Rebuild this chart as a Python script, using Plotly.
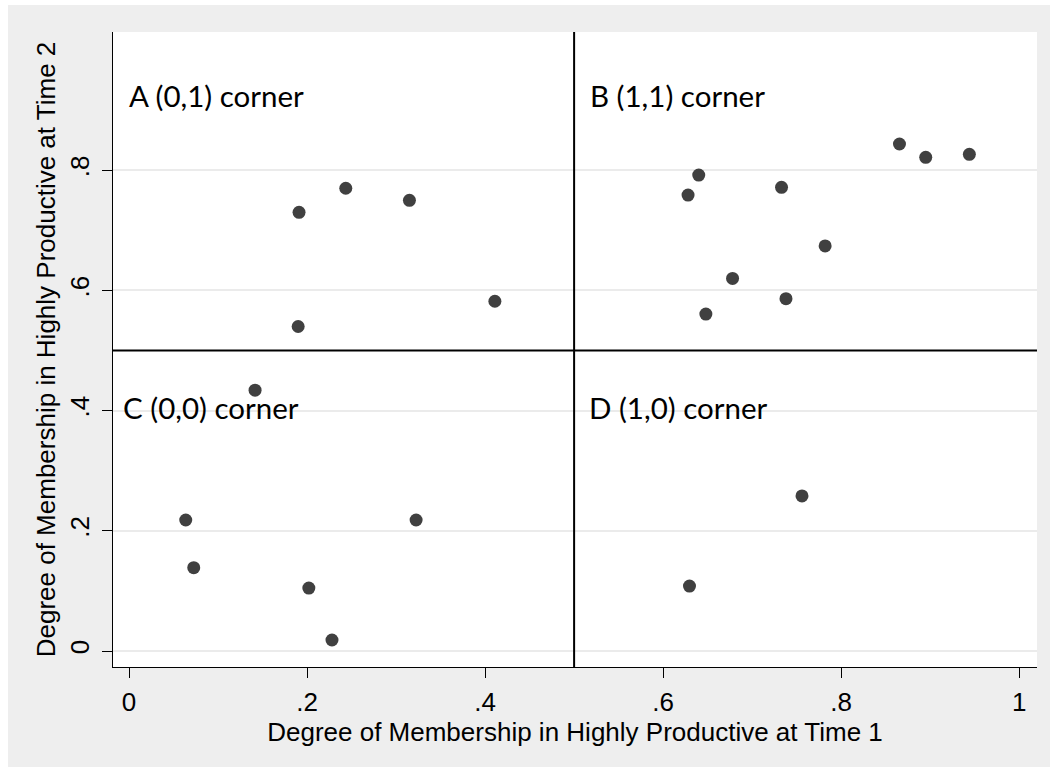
import plotly.graph_objects as go

# Membership scores for each case at the two time points
time1 = [0.191, 0.2435, 0.315, 0.411, 0.190,
         0.8655, 0.895, 0.944, 0.640, 0.628, 0.733, 0.782, 0.678, 0.738, 0.648,
         0.1416, 0.0637, 0.3225, 0.0727, 0.202, 0.228,
         0.756, 0.6296]
time2 = [0.730, 0.770, 0.750, 0.582, 0.540,
         0.8436, 0.8215, 0.8265, 0.792, 0.7587, 0.7715, 0.674, 0.620, 0.5862, 0.5607,
         0.434, 0.218, 0.218, 0.1386, 0.1048, 0.0183,
         0.258, 0.108]

# Corner labels and where they sit in data units
corner_labels = ["A (0,1) corner", "B (1,1) corner", "C (0,0) corner", "D (1,0) corner"]
corner_x = [-0.002, 0.516, -0.009, 0.514]
corner_y = [0.925, 0.925, 0.406, 0.406]

tick_vals = [0, 0.2, 0.4, 0.6, 0.8, 1]
x_tick_text = ["0", ".2", ".4", ".6", ".8", "1"]
y_tick_vals = [0, 0.2, 0.4, 0.6, 0.8]
y_tick_text = ["0", ".2", ".4", ".6", ".8"]

AX_FONT = dict(family="Liberation Sans, Arial, sans-serif", size=26, color="black")
LABEL_FONT = dict(family="Lato, Open Sans, sans-serif", size=29.5, color="black")

fig = go.Figure()
fig.add_trace(go.Scatter(
    x=time1, y=time2, mode="markers",
    marker=dict(size=13, color="#404040", line=dict(width=0)),
    showlegend=False, hoverinfo="skip",
))

for txt, cx, cy in zip(corner_labels, corner_x, corner_y):
    fig.add_annotation(x=cx, y=cy, text=txt, showarrow=False,
                       xanchor="left", yanchor="middle", font=LABEL_FONT)

shapes = [
    # quadrant dividers
    dict(type="line", xref="x", yref="paper", x0=0.5, x1=0.5, y0=0, y1=1,
         line=dict(color="black", width=2), layer="above"),
    dict(type="line", xref="paper", yref="y", x0=0, x1=1, y0=0.5, y1=0.5,
         line=dict(color="black", width=2), layer="above"),
    # thin white strips outside the grey frame
    dict(type="rect", xref="paper", yref="paper", x0=-0.2, x1=-0.1136, y0=-0.3, y1=1.2,
         fillcolor="white", line=dict(width=0), layer="above"),
    dict(type="rect", xref="paper", yref="paper", x0=-0.2, x1=1.2, y0=1.0425, y1=1.2,
         fillcolor="white", line=dict(width=0), layer="above"),
]

fig.update_layout(
    width=1050, height=767,
    margin=dict(l=113, r=13, t=32, b=100),
    paper_bgcolor="#eeeeee", plot_bgcolor="white",
    shapes=shapes,
    xaxis=dict(
        range=[-0.018, 1.020], tickvals=tick_vals, ticktext=x_tick_text,
        showgrid=False, zeroline=False,
        showline=True, linecolor="black", linewidth=1.3,
        ticks="outside", ticklen=10, tickwidth=1, tickcolor="black",
        ticklabelstandoff=2, tickfont=AX_FONT,
        title=dict(text="Degree of Membership in Highly Productive at Time 1",
                   font=AX_FONT, standoff=2),
    ),
    yaxis=dict(
        range=[-0.0266, 1.030], tickvals=y_tick_vals, ticktext=y_tick_text,
        showgrid=True, gridcolor="#ebebeb", gridwidth=1.5, zeroline=False,
        showline=True, linecolor="black", linewidth=1.3,
        ticks="outside", ticklen=10, tickwidth=1, tickcolor="black",
        tickangle=-90, ticklabelstandoff=2, tickfont=AX_FONT,
        title=dict(text="Degree of Membership in Highly Productive at Time 2",
                   font=AX_FONT, standoff=2),
    ),
)

fig.write_html("out.html")
